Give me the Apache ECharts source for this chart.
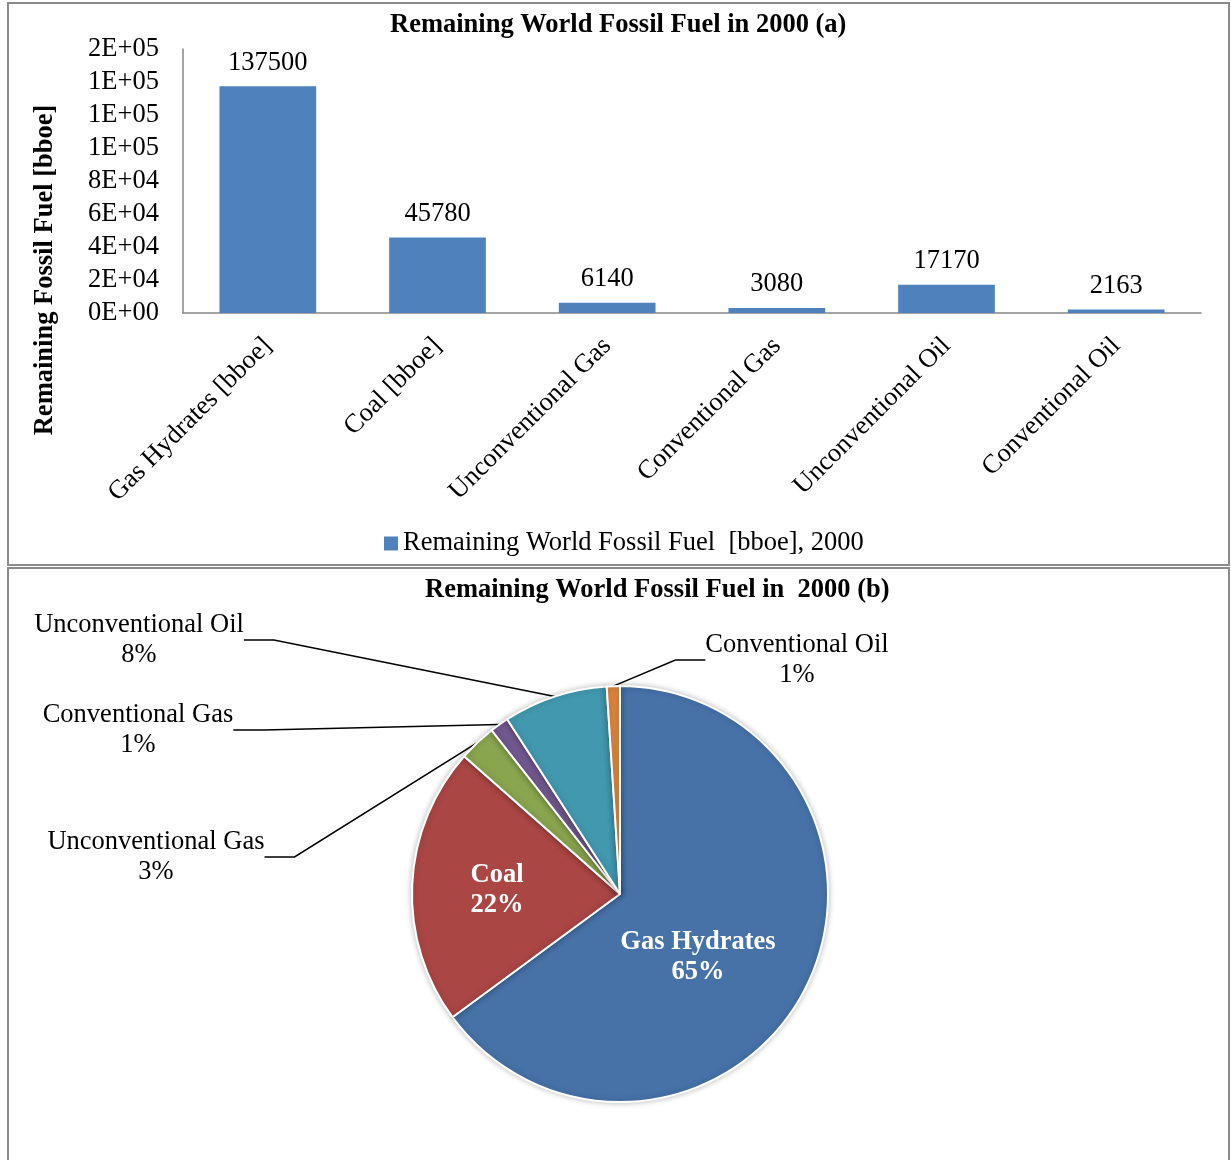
<!DOCTYPE html>
<html>
<head>
<meta charset="utf-8">
<script src="https://cdn.jsdelivr.net/npm/echarts@6/dist/echarts.min.js"></script>
<style>
  html, body { margin: 0; padding: 0; background: #fff; }
  #chart { width: 1231px; height: 1160px; }
</style>
</head>
<body>
<div id="chart"></div>
<script>
// data
const categories = ['Gas Hydrates [bboe]', 'Coal [bboe]', 'Unconventional Gas', 'Conventional Gas', 'Unconventional Oil', 'Conventional Oil'];
const fuelValues = [137500, 45780, 6140, 3080, 17170, 2163];
const pieNames = ['Gas Hydrates', 'Coal', 'Unconventional Gas', 'Conventional Gas', 'Unconventional Oil', 'Conventional Oil'];
const pieColors = ['#4672A8', '#AA4644', '#89A54E', '#71588F', '#4198AF', '#DB843D'];
const yMin = 0, yMax = 160000, yStep = 20000;

const FONT = '"Liberation Serif", "Times New Roman", serif';
const FS = 26.5;
const total = fuelValues.reduce((a, b) => a + b, 0);

// Excel style "0E+00"
function sciLabel(v) {
	const [m, e] = v.toExponential(0).split('e');
	const n = Math.abs(parseInt(e, 10));
	return m + 'E' + (parseInt(e, 10) < 0 ? '-' : '+') + (n < 10 ? '0' + n : n);
}

// where the pie labels sit (label centre)
const pieLabelSpots = [[698, 957], [497, 890], [156, 857], [138, 730], [139, 640], [797, 660]];

const chart = echarts.init(document.getElementById('chart'), null, { renderer: 'canvas' });

const option = {
	animation: false,
	textStyle: { fontFamily: FONT, color: '#000' },
	graphic: [
		{ type: 'rect', shape: { x: 8, y: 3, width: 1221, height: 562 }, style: { fill: 'none', stroke: '#8c8c8c', lineWidth: 2 }, silent: true },
		{ type: 'rect', shape: { x: 8, y: 568, width: 1221, height: 640 }, style: { fill: 'none', stroke: '#8c8c8c', lineWidth: 2 }, silent: true }
	],
	title: [
		{
			text: 'Remaining World Fossil Fuel in 2000 (a)',
			left: 390, top: 12, padding: 0,
			textStyle: { fontFamily: FONT, fontSize: FS, fontWeight: 'bold', color: '#000' }
		},
		{
			text: 'Remaining World Fossil Fuel in  2000 (b)',
			left: 425, top: 577, padding: 0,
			textStyle: { fontFamily: FONT, fontSize: FS, fontWeight: 'bold', color: '#000' }
		}
	],
	legend: {
		data: ['Remaining World Fossil Fuel  [bboe], 2000'],
		left: 384, top: 530, padding: 0,
		icon: 'rect', itemWidth: 14, itemHeight: 14,
		textStyle: { fontFamily: FONT, fontSize: FS, color: '#000' }
	},
	grid: { left: 183, right: 30, top: 49, bottom: 847, containLabel: false },
	xAxis: {
		type: 'category',
		data: categories,
		axisLine: { lineStyle: { color: '#868686', width: 1.5 } },
		axisTick: { show: false },
		axisLabel: { interval: 0, rotate: 45, margin: 29, fontFamily: FONT, fontSize: FS, color: '#000' }
	},
	yAxis: {
		type: 'value',
		min: yMin, max: yMax, interval: yStep,
		name: 'Remaining Fossil Fuel [bboe]',
		nameLocation: 'middle', nameRotate: 90, nameGap: 124,
		nameTextStyle: { fontFamily: FONT, fontSize: FS, fontWeight: 'bold', color: '#000', padding: [0, 178, 0, 0] },
		axisLine: { show: true, lineStyle: { color: '#868686', width: 1.5 } },
		axisTick: { show: false },
		splitLine: { show: false },
		axisLabel: { margin: 24, fontFamily: FONT, fontSize: FS, color: '#000', formatter: sciLabel }
	},
	series: [
		{
			name: 'Remaining World Fossil Fuel  [bboe], 2000',
			type: 'bar',
			data: fuelValues,
			barWidth: '57%',
			itemStyle: { color: '#4F81BD' },
			label: { show: true, position: 'top', distance: 10, fontFamily: FONT, fontSize: FS, color: '#000' }
		},
		{
			type: 'pie',
			center: [620, 894],
			radius: 208,
			startAngle: 90,
			clockwise: true,
			avoidLabelOverlap: false,
			legendHoverLink: false,
			data: pieNames.map((n, i) => {
				const inner = i < 2;
				return {
					name: n,
					value: fuelValues[i],
					itemStyle: { color: pieColors[i] },
					label: inner
						? { position: 'inside', color: '#fff', fontWeight: 'bold' }
						: { position: 'outside', color: '#000', fontWeight: 'normal' },
					labelLine: { show: !inner }
				};
			}),
			itemStyle: { borderColor: '#fff', borderWidth: 2, shadowBlur: 6, shadowColor: 'rgba(0,0,0,0.25)' },
			label: {
				show: true,
				fontFamily: FONT, fontSize: FS, lineHeight: 30, align: 'center',
				formatter: p => p.name + '\n' + Math.round(p.value / total * 100) + '%'
			},
			labelLine: { show: true, lineStyle: { color: '#000', width: 1.5 } },
			labelLayout: function (params) {
				const p = pieLabelSpots[params.dataIndex];
				return { x: p[0], y: p[1], align: 'center', verticalAlign: 'middle' };
			}
		}
	]
};

chart.setOption(option);
</script>
</body>
</html>
